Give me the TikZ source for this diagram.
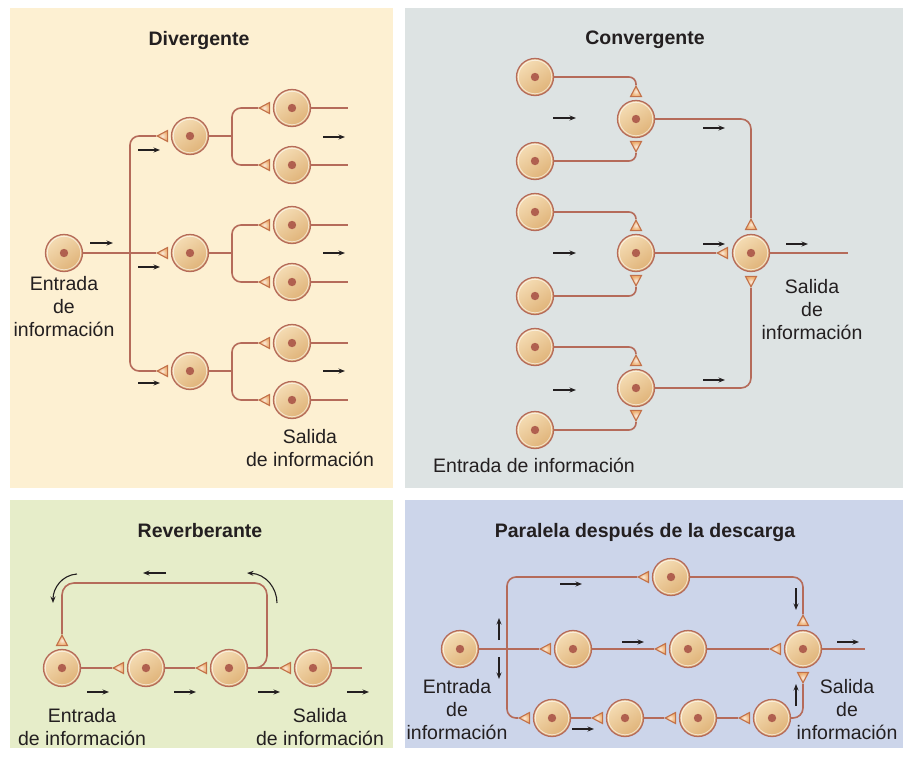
\documentclass[tikz,border=0pt]{standalone}
\usepackage{fontspec}
\setmainfont{Liberation Sans}
\usetikzlibrary{shapes.geometric, arrows.meta}

\definecolor{divbg}{HTML}{FDF0D2}
\definecolor{conbg}{HTML}{DDE3E3}
\definecolor{revbg}{HTML}{E6EDC9}
\definecolor{parbg}{HTML}{CCD5EA}
\definecolor{axoncol}{HTML}{B56B5A}
\definecolor{cellhi}{HTML}{F5DDB5}
\definecolor{cello}{HTML}{DFB277}
\definecolor{nucl}{HTML}{B0604F}
\definecolor{synedge}{HTML}{C2714A}
\definecolor{synfill}{HTML}{EBA865}
\definecolor{ink}{HTML}{231F20}

\tikzset{
  neuron/.style={circle, minimum size=37pt, inner sep=0pt, draw=axoncol, line width=1.3pt,
    top color=cellhi, bottom color=cello, shading angle=35,
    path picture={
      \draw[white, opacity=0.6, line width=0.8pt] (path picture bounding box.center) circle (16.7pt);
      \fill[nucl] (path picture bounding box.center) circle (4.2pt);}},
  syn/.style={isosceles triangle, isosceles triangle apex angle=56, inner sep=2.7pt,
    draw=synedge, line width=1.1pt, inner color=synfill!25!white, outer color=synfill},
  synL/.style={syn, shape border rotate=180, anchor=apex},
  synU/.style={syn, shape border rotate=90, anchor=apex},
  synD/.style={syn, shape border rotate=270, anchor=apex},
  axon/.style={draw=axoncol, line width=1.6pt},
  flow/.style={draw=ink, line width=1.1pt, -{Stealth[length=6.5pt, width=5pt]}},
  txt/.style={font=\fontsize{19.5}{23}\selectfont, text=ink, align=center, inner sep=0pt, anchor=north},
  heading/.style={txt, font=\bfseries\fontsize{19.5}{23}\selectfont},
}

\begin{document}
\begin{tikzpicture}[x=1pt, y=-1pt]
\useasboundingbox (0,0) rectangle (911,756);

% panel backgrounds
\fill[divbg] (10,8) rectangle (393,488);
\fill[conbg] (405,8) rectangle (903,488);
\fill[revbg] (10,500) rectangle (393,748);
\fill[parbg] (405,500) rectangle (903,748);

% ---------------- Divergente ----------------
\node[heading] at (199,31) {Divergente};

\node[neuron] (din) at (64,253) {};
\node[neuron] (d1) at (190,136) {};
\node[neuron] (d2) at (190,253) {};
\node[neuron] (d3) at (190,371) {};
\node[synL] (sd1) at (156,136) {};
\node[synL] (sd2) at (156,253) {};
\node[synL] (sd3) at (156,371) {};

\foreach \i/\y in {1/108, 2/165, 3/225, 4/282, 5/343, 6/400} {
  \node[neuron] (e\i) at (292,\y) {};
  \node[synL] (se\i) at (258,\y) {};
  \coordinate (eo\i) at (348,\y);
  \draw[axon] (e\i.east) -- (eo\i);
}

\coordinate (dtrunk) at (130,253);
\coordinate (db1) at (232,136);
\coordinate (db2) at (232,253);
\coordinate (db3) at (232,371);

\draw[axon] (din.east) -- (sd2.apex);
\draw[axon, rounded corners=9pt] (sd1.apex) -| (dtrunk) |- (sd3.apex);
\draw[axon] (d1.east) -- (db1);
\draw[axon] (d2.east) -- (db2);
\draw[axon] (d3.east) -- (db3);
\draw[axon, rounded corners=9pt] (se1.apex) -| (db1) |- (se2.apex);
\draw[axon, rounded corners=9pt] (se3.apex) -| (db2) |- (se4.apex);
\draw[axon, rounded corners=9pt] (se5.apex) -| (db3) |- (se6.apex);

\draw[flow] (90,243) -- (113,243);
\draw[flow] (138,150) -- (160,150);
\draw[flow] (138,267) -- (160,267);
\draw[flow] (138,383) -- (160,383);
\draw[flow] (323,137) -- (345,137);
\draw[flow] (323,253) -- (345,253);
\draw[flow] (323,371) -- (345,371);

\node[txt] at (64,276) {Entrada\\de\\información};
\node[txt] at (310,429) {Salida\\de información};

% ---------------- Convergente ----------------
\node[heading] at (645,31) {Convergente};

\foreach \i/\y in {1/77, 2/161, 3/212, 4/296, 5/347, 6/430}
  \node[neuron] (c\i) at (535,\y) {};

\node[neuron] (m1) at (636,119) {};
\node[neuron] (m2) at (636,253) {};
\node[neuron] (m3) at (636,388) {};
\node[synU] (sm1t) at (636,85) {};
\node[synD] (sm1b) at (636,153) {};
\node[synU] (sm2t) at (636,219) {};
\node[synD] (sm2b) at (636,287) {};
\node[synU] (sm3t) at (636,354) {};
\node[synD] (sm3b) at (636,422) {};

\node[neuron] (f) at (751,253) {};
\node[synU] (sft) at (751,218) {};
\node[synL] (sfl) at (716,253) {};
\node[synD] (sfb) at (751,288) {};
\coordinate (cout) at (848,253);

\draw[axon, rounded corners=7pt] (c1.east) -| (sm1t.apex);
\draw[axon, rounded corners=7pt] (c2.east) -| (sm1b.apex);
\draw[axon, rounded corners=7pt] (c3.east) -| (sm2t.apex);
\draw[axon, rounded corners=7pt] (c4.east) -| (sm2b.apex);
\draw[axon, rounded corners=7pt] (c5.east) -| (sm3t.apex);
\draw[axon, rounded corners=7pt] (c6.east) -| (sm3b.apex);
\draw[axon, rounded corners=10pt] (m1.east) -| (sft.apex);
\draw[axon] (m2.east) -- (sfl.apex);
\draw[axon, rounded corners=10pt] (m3.east) -| (sfb.apex);
\draw[axon] (f.east) -- (cout);

\draw[flow] (553,118) -- (576,118);
\draw[flow] (553,253) -- (576,253);
\draw[flow] (553,390) -- (576,390);
\draw[flow] (703,128) -- (725,128);
\draw[flow] (703,244) -- (725,244);
\draw[flow] (703,380) -- (725,380);
\draw[flow] (786,244) -- (808,244);

\node[txt] at (534,458) {Entrada de información};
\node[txt] at (812,279) {Salida\\de\\información};

% ---------------- Reverberante ----------------
\node[heading] at (200,523) {Reverberante};

\node[neuron] (r1) at (62,668) {};
\node[neuron] (r2) at (146,668) {};
\node[neuron] (r3) at (229,668) {};
\node[neuron] (r4) at (313,668) {};
\node[synU] (sr1) at (62,634) {};
\node[synL] (sr2) at (112,668) {};
\node[synL] (sr3) at (195,668) {};
\node[synL] (sr4) at (279,668) {};
\coordinate (rloop) at (267,583);
\coordinate (rout) at (362,668);

\draw[axon] (r1.east) -- (sr2.apex);
\draw[axon] (r2.east) -- (sr3.apex);
\draw[axon] (r3.east) -- (sr4.apex);
\draw[axon] (r4.east) -- (rout);
\draw[axon, rounded corners=12pt] (r3.east) -| (rloop) -| (sr1.apex);

\draw[flow] (77,574) .. controls (62,575) and (53,588) .. (53,603);
\draw[flow] (277,603) .. controls (277,588) and (266,574) .. (247,573);
\draw[flow] (166,573) -- (143,573);
\draw[flow] (87,692) -- (109,692);
\draw[flow] (174,692) -- (196,692);
\draw[flow] (258,692) -- (280,692);
\draw[flow] (347,692) -- (369,692);

\node[txt] at (82,708) {Entrada\\de información};
\node[txt] at (320,708) {Salida\\de información};

% ---------------- Paralela despues de la descarga ----------------
\node[heading] at (645,523) {Paralela después de la descarga};

\node[neuron] (p0) at (460,649) {};
\node[neuron] (t1) at (671,577) {};
\node[neuron] (q1) at (573,649) {};
\node[neuron] (q2) at (688,649) {};
\node[neuron] (po) at (803,649) {};
\node[neuron] (b1) at (552,718) {};
\node[neuron] (b2) at (625,718) {};
\node[neuron] (b3) at (698,718) {};
\node[neuron] (b4) at (772,718) {};

\node[synL] (st1) at (637,577) {};
\node[synL] (sq1) at (539,649) {};
\node[synL] (sq2) at (654,649) {};
\node[synL] (sol) at (769,649) {};
\node[synU] (sot) at (803,614) {};
\node[synD] (sob) at (803,684) {};
\node[synL] (sb1) at (518,718) {};
\node[synL] (sb2) at (591,718) {};
\node[synL] (sb3) at (664,718) {};
\node[synL] (sb4) at (738,718) {};

\coordinate (ptrunk) at (507,649);
\coordinate (pout) at (865,649);

\draw[axon] (p0.east) -- (sq1.apex);
\draw[axon, rounded corners=9pt] (st1.apex) -| (ptrunk) |- (sb1.apex);
\draw[axon] (q1.east) -- (sq2.apex);
\draw[axon] (q2.east) -- (sol.apex);
\draw[axon] (po.east) -- (pout);
\draw[axon, rounded corners=10pt] (t1.east) -| (sot.apex);
\draw[axon] (b1.east) -- (sb2.apex);
\draw[axon] (b2.east) -- (sb3.apex);
\draw[axon] (b3.east) -- (sb4.apex);
\draw[axon, rounded corners=10pt] (b4.east) -| (sob.apex);

\draw[flow] (499,640) -- (499,618);
\draw[flow] (499,657) -- (499,679);
\draw[flow] (560,584) -- (582,584);
\draw[flow] (622,642) -- (644,642);
\draw[flow] (796,588) -- (796,610);
\draw[flow] (796,706) -- (796,684);
\draw[flow] (837,642) -- (859,642);
\draw[flow] (572,729) -- (594,729);

\node[txt] at (457,679) {Entrada\\de\\información};
\node[txt] at (847,679) {Salida\\de\\información};

\end{tikzpicture}
\end{document}
